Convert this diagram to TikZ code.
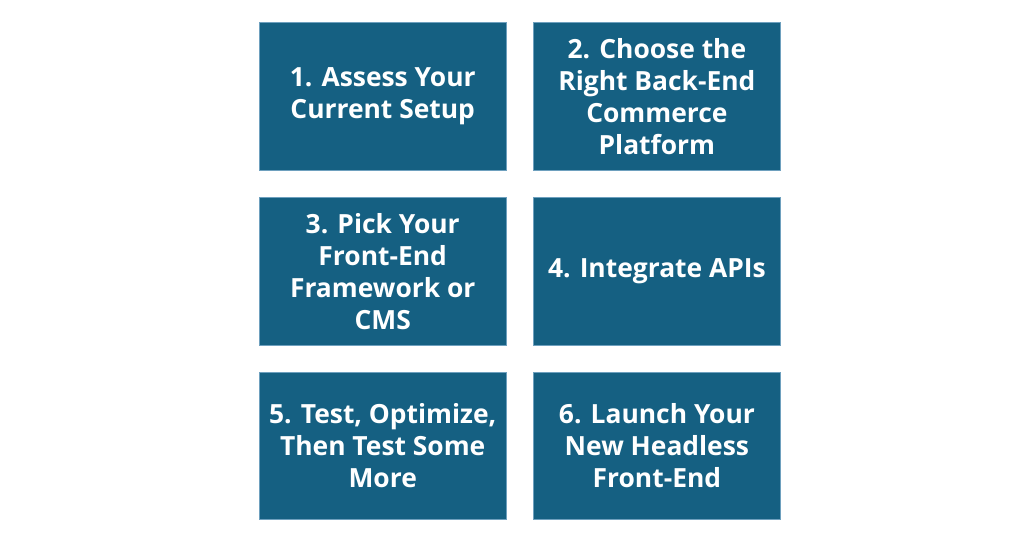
\documentclass[tikz,border=0pt]{standalone}
\usepackage{fontspec}
\setmainfont{Open Sans}
\definecolor{stepblue}{RGB}{21,96,130}
\definecolor{edgeblue}{RGB}{110,160,190}
\usetikzlibrary{positioning}

\begin{document}
\begin{tikzpicture}[
        x=1pt, y=-1pt,
        node distance=26.6pt,
        stepbox/.style={rectangle, draw=edgeblue, line width=0.6pt, fill=stepblue, minimum width=247pt, minimum height=147.5pt, inner sep=0pt, align=center, text=white, font=\fontsize{26.4}{32}\selectfont\bfseries}
    ]
        \useasboundingbox (0,0) rectangle (1024,538);
        % Row 1
        \node[stepbox] (assess) at (382.7,96.5) {1. Assess Your\\Current Setup};
        \node[stepbox, right=of assess] (backend) {2. Choose the\\Right Back-End\\Commerce\\Platform};
        
        % Row 2
        \node[stepbox, below=of assess] (frontend) {3. Pick Your\\Front-End\\Framework or\\CMS};
        \node[stepbox, right=of frontend] (apis) {4. Integrate APIs};
        
        % Row 3
        \node[stepbox, below=of frontend] (test) {5. Test, Optimize,\\Then Test Some\\More};
        \node[stepbox, right=of test] (launch) {6. Launch Your\\New Headless\\Front-End};
    \end{tikzpicture}
\end{document}
